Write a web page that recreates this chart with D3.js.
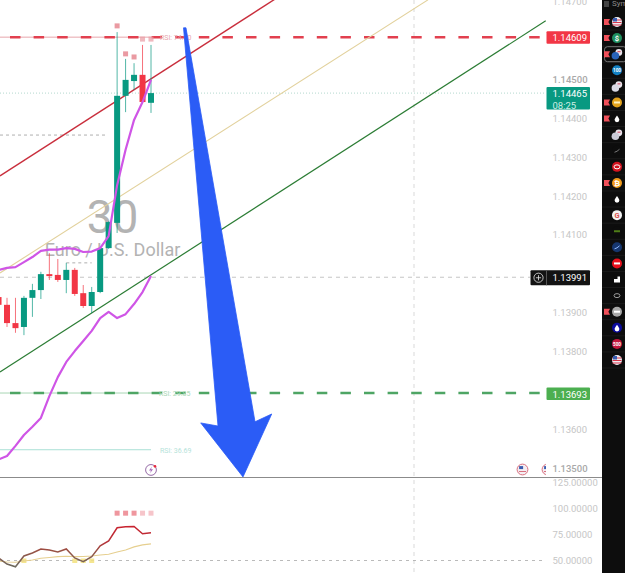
<!DOCTYPE html>
<html>
<head>
<meta charset="utf-8">
<script src="https://cdn.jsdelivr.net/npm/d3@7"></script>
<style>
html,body{margin:0;padding:0;background:#fff;overflow:hidden}
svg{display:block;font-family:Roboto,"Liberation Sans",sans-serif}
</style>
</head>
<body>
<svg id="chart" width="625" height="573"></svg>
<script>
// EUR/USD 30-minute candles
const opens  = [1.13940,1.13920,1.13873,1.13863,1.13938,1.13958,1.13999,1.13997,1.13984,1.14010,1.13950,1.13917,1.13953,1.14066,1.14131,1.14458,1.14496,1.14512,1.14440];
const closes = [1.13920,1.13873,1.13860,1.13938,1.13958,1.13999,1.13994,1.13984,1.14010,1.13948,1.13917,1.13953,1.14066,1.14133,1.14458,1.14499,1.14512,1.14442,1.14465];
const highs  = [1.13945,1.13938,1.13938,1.13943,1.13974,1.14005,1.14053,1.14038,1.14028,1.14015,1.13971,1.13966,1.14068,1.14135,1.14622,1.14553,1.14542,1.14589,1.14589];
const lows   = [1.13917,1.13863,1.13848,1.13842,1.13889,1.13935,1.13984,1.13979,1.13950,1.13943,1.13912,1.13899,1.13950,1.14064,1.14105,1.14416,1.14473,1.14440,1.14414];

// Bollinger-style envelope around price
const bandUpper = [1.14010,1.14015,1.14017,1.14030,1.14043,1.14059,1.14062,1.14062,1.14066,1.14064,1.14056,1.14057,1.14066,1.14097,1.14228,1.14319,1.14396,1.14442,1.14499];
const bandLower = [1.13522,1.13531,1.13557,1.13585,1.13606,1.13629,1.13685,1.13734,1.13773,1.13801,1.13827,1.13853,1.13886,1.13902,1.13886,1.13896,1.13922,1.13953,1.13994];

// RSI pane
const rsiValues = [52.4,46.6,44,54.3,57.2,61,60,58.2,61,52.4,48.8,53.7,64,68.8,81.3,82.2,82.5,75.5,76.4];
const rsiAverage = [49.5,48.6,48.3,49.5,50.5,52.1,52.9,53.7,54,53.7,53.8,54.3,55.3,56,58.2,60.1,63,64.9,65.9];
const overboughtBars = [14,15,16,17,18];
const overboughtStrength = [0.55,0.55,0.55,0.3,0.3];
const oversoldBars = [-0.17,3,9,10,11];

// Price levels and trend channel, as [bar, price]
const channelRed = [[0.17,1.14252],[32.64,1.14707]];
const channelTan = [[0.17,1.14002],[50.7,1.14705]];
const channelGreen = [[0.17,1.13747],[64.6,1.14651]];
const resistance = 1.14609, support = 1.13693, lastPrice = 1.14465, crosshairPrice = 1.13991;
const rsiLowPrice = 1.13547;
const shortLevelA = 1.14357, shortLevelB = 1.14028;

// Overbought markers on the price pane
const markerBars = [14,15,16,17,18];
const markerPrices = [1.14638,1.14566,1.14558,1.14604,1.14604];

// Forecast arrow outline, as [bar, price]
const arrowPath = [[21.84,1.14633],[25.91,1.13608],[23.87,1.13616],[28.86,1.13477],[32.25,1.13639],[30.28,1.13619],[22.13,1.14633]];

const priceTicks = [1.147,1.145,1.144,1.143,1.142,1.141,1.139,1.138,1.136,1.135];
const boldTicks = [1.145,1.135];
const rsiTicks = [125,100,75,50];

// Watchlist rail: icon fill, glyph colour, glyph kind, alert flag
const railFills  = ["#eeeef4","#1f8f5f","#2a63b8","#1281c4","#d9d9e4","#e2a21c","#0d0d0d","#c9c9d6","#0d0d0d","#d3131f","#ef9a1a","#0d0d0d","#f2f2f2","#0d0d0d","#16366e","#e8101c","#0d0d0d","#0d0d0d","#a8a8a8","#0b0b9c","#c4163d","#eeeef4"];
const railInks   = ["#d7354a","#ffffff","#d7354a","#ffffff","#c9405a","#fff3c0","#ffffff","#c9405a","#777777","#ffffff","#ffffff","#ffffff","#d9534f","#4f7d18","#8fb8ff","#ffffff","#ffffff","#999999","#ffffff","#ffffff","#ffffff","#d7354a"];
const railGlyphs = ["us","$","pair","100","pair","bar","drop","pair","tick","ring","₿","drop","G","bar","tick","bar","box","ring","bar","drop","500","us"];
const railFlags  = [1,1,1,0,0,1,1,0,0,0,1,0,0,0,0,0,0,0,1,0,0,0];

const svg = d3.select("#chart");
const W = 625, H = 573;

const x = d3.scaleLinear().domain([0,18]).range([-1.47,151]);
const y = d3.scaleLinear().domain([1.135,1.145]).range([468,79.5]);
const yRsi = d3.scaleLinear().domain([50,125]).range([560.5,482]);
const railY = d3.scaleLinear().domain([0,21]).range([22,360]);

const GREEN = "#089981", RED = "#f23645", AXIS = "#c6c6c6";
const PLOT_RIGHT = 546, PANE_Y = 477.5, RAIL_X = 602;
const fmt = d3.format(".5f");

svg.append("rect").attr("width",W).attr("height",H).attr("fill","#fff");

// Symbol watermark
const wm = svg.append("g").attr("fill","#b3b3b3").attr("text-anchor","middle");
wm.append("text").attr("x",112.5).attr("y",233).attr("font-size",46).text("30");
wm.append("text").attr("x",112.5).attr("y",256).attr("font-size",18).text("Euro / U.S. Dollar");

// Crosshair and reference lines
svg.append("line").attr("x1",414).attr("x2",414).attr("y1",0).attr("y2",H)
  .attr("stroke","#cfcfcf").attr("stroke-width",0.8).attr("stroke-dasharray","4 4");
svg.append("line").attr("x1",0).attr("x2",530).attr("y1",y(crosshairPrice)).attr("y2",y(crosshairPrice))
  .attr("stroke","#b5b5b5").attr("stroke-width",0.8).attr("stroke-dasharray","4 4");
svg.append("line").attr("x1",0).attr("x2",PLOT_RIGHT).attr("y1",y(lastPrice)).attr("y2",y(lastPrice))
  .attr("stroke","#93c9ba").attr("stroke-width",0.7).attr("stroke-dasharray","1 2");
svg.append("line").attr("x1",0).attr("x2",x(12.85)).attr("y1",y(shortLevelA)).attr("y2",y(shortLevelA))
  .attr("stroke","#9a9a9a").attr("stroke-width",0.8).attr("stroke-dasharray","3 3");
svg.append("line").attr("x1",x(8)).attr("x2",x(11)).attr("y1",y(shortLevelB)).attr("y2",y(shortLevelB))
  .attr("stroke","#9a9a9a").attr("stroke-width",0.8).attr("stroke-dasharray","3 3");

// Key levels: pale solid run over the candles, then the heavy dashes
const levels = [
  {price:resistance,pale:"#e7a6ac",dash:"#e2404f",end:x(18.6),text:"RSI: 74.90",textX:160},
  {price:support,pale:"#a8d6b4",dash:"#4ea564",end:x(18.9),text:"RSI: 29.85",textX:159}
];
levels.forEach(d=>{
  svg.append("line").attr("x1",0).attr("x2",d.end).attr("y1",y(d.price)).attr("y2",y(d.price))
    .attr("stroke",d.pale).attr("stroke-width",1);
  svg.append("line").attr("x1",10).attr("x2",PLOT_RIGHT).attr("y1",y(d.price)).attr("y2",y(d.price))
    .attr("stroke",d.dash).attr("stroke-width",2.5).attr("stroke-dasharray","10.5 13.1");
  svg.append("text").attr("x",d.textX).attr("y",y(d.price)+3).attr("font-size",7)
    .attr("fill",d.pale).text(d.text);
});
svg.append("line").attr("x1",0).attr("x2",x(18)).attr("y1",y(rsiLowPrice)).attr("y2",y(rsiLowPrice))
  .attr("stroke","#a9e0d6").attr("stroke-width",1);
svg.append("text").attr("x",160).attr("y",y(rsiLowPrice)+3).attr("font-size",7)
  .attr("fill","#b5e3da").text("RSI: 36.69");

// Trend channel
const priceLine = d3.line().x(d=>x(d[0])).y(d=>y(d[1]));
[[channelTan,"#e2d19c",1.1],[channelRed,"#c92f3d",1.4],[channelGreen,"#2c7d35",1.2]].forEach(([pts,c,w])=>{
  svg.append("path").attr("d",priceLine(pts)).attr("fill","none").attr("stroke",c).attr("stroke-width",w);
});

// Candles
const bars = d3.range(opens.length);
const candle = svg.append("g").selectAll("g").data(bars).join("g");
candle.append("line")
  .attr("x1",i=>x(i)).attr("x2",i=>x(i))
  .attr("y1",i=>y(highs[i])).attr("y2",i=>y(lows[i]))
  .attr("stroke",i=>closes[i]>=opens[i]?GREEN:RED).attr("stroke-width",1).attr("stroke-opacity",0.7);
candle.append("rect")
  .attr("x",i=>x(i)-3).attr("width",6)
  .attr("y",i=>y(Math.max(opens[i],closes[i])))
  .attr("height",i=>Math.max(1.5,Math.abs(y(opens[i])-y(closes[i]))))
  .attr("fill",i=>closes[i]>=opens[i]?GREEN:RED);

// Envelope
const bandLine = d3.line().x((d,i)=>x(i)).y(d=>y(d));
[bandUpper,bandLower].forEach(s=>{
  svg.append("path").attr("d",bandLine(s)).attr("fill","none")
    .attr("stroke","#cf55e6").attr("stroke-width",2.2).attr("stroke-linejoin","round");
});

svg.append("g").selectAll("rect").data(markerBars).join("rect")
  .attr("x",d=>x(d)-2.5).attr("width",5).attr("height",5)
  .attr("y",(d,i)=>y(markerPrices[i])-2.5)
  .attr("fill","#ea9aa2").attr("opacity",(d,i)=>i<3?1:0.7);

// Forecast arrow
svg.append("path").attr("d",priceLine(arrowPath)+"Z")
  .attr("fill","#2b5cf6").attr("stroke","#2b5cf6").attr("stroke-width",0.8).attr("stroke-linejoin","round");

// News marker
const news = svg.append("g").attr("transform",`translate(${x(18)},${y(1.13495)})`);
news.append("circle").attr("r",5.4).attr("fill","#fff").attr("stroke","#8a5a9c").attr("stroke-width",0.9);
news.append("path").attr("d","M1-3.4L-2 .6H0L-1 3.4L2-.6H0Z").attr("fill","#a566b8");
news.append("circle").attr("cx",4).attr("cy",-3.6).attr("r",1.3).attr("fill","#e8273a");

// Economic event flags near the scale
[522.5,547.5].forEach(cx=>{
  const g = svg.append("g").attr("transform",`translate(${cx},469.5)`);
  g.append("circle").attr("r",5.4).attr("fill","#f4eef2").attr("stroke","#d9707f").attr("stroke-width",1);
  g.append("rect").attr("x",-3.4).attr("y",-3.4).attr("width",4).attr("height",3).attr("fill","#3a5db0");
  g.append("rect").attr("x",-3.6).attr("y",1.5).attr("width",7.2).attr("height",1).attr("fill","#d9707f");
});
svg.append("rect").attr("x",546).attr("y",460).attr("width",56).attr("height",17).attr("fill","#fff");

// Pane separator
svg.append("line").attr("x1",0).attr("x2",RAIL_X).attr("y1",PANE_Y).attr("y2",PANE_Y)
  .attr("stroke","#8b8b8b").attr("stroke-width",1);

// RSI pane
svg.append("line").attr("x1",0).attr("x2",PLOT_RIGHT).attr("y1",yRsi(50)).attr("y2",yRsi(50))
  .attr("stroke","#a8a8a8").attr("stroke-width",0.8).attr("stroke-dasharray","3 4");
const rsiMarks = svg.append("g");
rsiMarks.selectAll("rect.os").data(oversoldBars).join("rect").attr("class","os")
  .attr("x",d=>x(d)-2.5).attr("width",5).attr("height",4.5).attr("y",yRsi(50)-2)
  .attr("fill","#f3e27e").attr("opacity",0.85);
rsiMarks.selectAll("rect.ob").data(overboughtBars).join("rect").attr("class","ob")
  .attr("x",d=>x(d)-2.5).attr("width",5).attr("height",5).attr("y",yRsi(100)+2.5)
  .attr("fill","#e2404f").attr("opacity",(d,i)=>overboughtStrength[i]);

const defs = svg.append("defs");
const grad = defs.append("linearGradient").attr("id","rsiStroke")
  .attr("gradientUnits","userSpaceOnUse").attr("x1",0).attr("x2",0)
  .attr("y1",yRsi(82)).attr("y2",yRsi(45));
[[0,"#c8232f"],[0.4,"#b5333a"],[0.6,"#9a5043"],[1,"#6f6a5e"]].forEach(([o,c])=>{
  grad.append("stop").attr("offset",o).attr("stop-color",c);
});
const rsiLine = d3.line().x((d,i)=>x(i)).y(d=>yRsi(d));
svg.append("path").attr("d",rsiLine(rsiAverage)).attr("fill","none").attr("stroke","#e6cf8f").attr("stroke-width",1.1);
svg.append("path").attr("d",rsiLine(rsiValues)).attr("fill","none").attr("stroke","url(#rsiStroke)").attr("stroke-width",1.5);

// Axes
const priceAxis = svg.append("g").attr("transform","translate(549.5,0)")
  .call(d3.axisRight(y).tickValues(priceTicks).tickFormat(fmt).tickSize(0).tickPadding(3));
const rsiAxis = svg.append("g").attr("transform","translate(549.5,0)")
  .call(d3.axisRight(yRsi).tickValues(rsiTicks).tickFormat(fmt).tickSize(0).tickPadding(3));
[priceAxis,rsiAxis].forEach(a=>{
  a.select(".domain").remove();
  a.selectAll("text").attr("font-family","Roboto,sans-serif").attr("font-size",9.5).attr("fill",AXIS);
});
priceAxis.selectAll(".tick text").filter(d=>boldTicks.includes(d))
  .attr("fill","#a9a9a9").attr("font-weight",500);

// Price tags on the scale
function tag(top,h,left,fill,lines){
  svg.append("rect").attr("x",left).attr("y",top).attr("width",590-left).attr("height",h).attr("rx",1).attr("fill",fill);
  lines.forEach((t,i)=>{
    svg.append("text").attr("x",552.5).attr("y",top+10+i*11.5).attr("font-size",9.5)
      .attr("fill",i?"#cdeee5":"#fff").text(t);
  });
}
tag(y(resistance)-6,12.5,546.5,RED,[fmt(resistance)]);
tag(y(lastPrice)-6,22.5,546.5,GREEN,[fmt(lastPrice),"08:25"]);
tag(y(crosshairPrice)-7,15,530.5,"#131313",[]);
svg.append("text").attr("x",552.5).attr("y",y(crosshairPrice)+3.5).attr("font-size",9.5)
  .attr("fill","#fff").text(fmt(crosshairPrice));
svg.append("line").attr("x1",546.5).attr("x2",546.5).attr("y1",y(crosshairPrice)-7).attr("y2",y(crosshairPrice)+8).attr("stroke","#555");
const plus = svg.append("g").attr("transform",`translate(538.5,${y(crosshairPrice)+0.5})`)
  .attr("stroke","#e8e8e8").attr("fill","none").attr("stroke-width",0.8);
plus.append("circle").attr("r",4.6);
plus.append("path").attr("d","M-2.6 0H2.6M0-2.6V2.6");
tag(y(support)-5.5,12.5,546.5,"#4caf50",[fmt(support)]);

// Watchlist rail
const rail = svg.append("g");
const rows = d3.range(railFills.length);
rail.append("rect").attr("x",RAIL_X).attr("y",0).attr("width",W-RAIL_X).attr("height",H).attr("fill","#0d0d0d");
rail.append("rect").attr("x",604).attr("y",1).attr("width",5).attr("height",6).attr("fill","#444");
rail.append("text").attr("x",612).attr("y",6).attr("font-size",8).attr("fill","#8a8a8a").text("Sym");
rail.selectAll("line").data(rows).join("line")
  .attr("x1",RAIL_X).attr("x2",W).attr("y1",i=>railY(i)+8).attr("y2",i=>railY(i)+8)
  .attr("stroke","#242424").attr("stroke-width",0.6);
rail.append("rect").attr("x",604.5).attr("y",railY(2)-7.5).attr("width",22).attr("height",15).attr("rx",3)
  .attr("fill","none").attr("stroke","#777");
rail.selectAll("path.flag").data(rows.filter(i=>railFlags[i])).join("path").attr("class","flag")
  .attr("d",i=>{const t=railY(i);return `M604 ${t-3}H610L608.4 ${t}L610 ${t+3}H604Z`;})
  .attr("fill","#f0505a");
const icon = rail.selectAll("g.icon").data(rows).join("g").attr("class","icon")
  .attr("transform",i=>`translate(617,${railY(i)})`);
icon.append("circle").attr("r",i=>railGlyphs[i]==="pair"?0:5).attr("fill",i=>railFills[i]);
icon.each(function(i){
  const g = d3.select(this), kind = railGlyphs[i], ink = railInks[i], fill = railFills[i];
  if(kind==="us"){
    [-2.5,0,2.5].forEach(o=>g.append("rect").attr("x",-4.5).attr("y",o).attr("width",9).attr("height",1).attr("fill",ink));
    g.append("rect").attr("x",-4).attr("y",-4).attr("width",4).attr("height",3.5).attr("fill","#3a5db0");
  } else if(kind==="pair"){
    g.append("circle").attr("cx",1.8).attr("cy",-1.8).attr("r",3.4).attr("fill","#e9e3ea");
    g.append("circle").attr("cx",-1.6).attr("cy",1.6).attr("r",3.8).attr("fill",fill);
    g.append("rect").attr("x",0.5).attr("y",-3).attr("width",3).attr("height",1).attr("fill",ink);
  } else if(kind==="bar"){
    g.append("rect").attr("x",-3).attr("y",-1).attr("width",6).attr("height",2).attr("fill",ink);
  } else if(kind==="ring"){
    g.append("ellipse").attr("rx",3).attr("ry",2).attr("fill","none").attr("stroke",ink).attr("stroke-width",1);
  } else if(kind==="drop"){
    g.append("path").attr("d","M0-3C2 0 2.4 .6 2.4 1.2A2.4 2.4 0 0 1-2.4 1.2C-2.4 .6-2 0 0-3Z").attr("fill",ink);
  } else if(kind==="tick"){
    g.append("path").attr("d","M-2.5 1.5L0 .5L2.5-1.5").attr("fill","none").attr("stroke",ink).attr("stroke-width",1);
  } else if(kind==="box"){
    g.append("path").attr("d","M-3 3V-.5H.5V-3H3V3Z").attr("fill",ink);
  } else {
    g.append("text").attr("text-anchor","middle").attr("y",kind.length>1?1.6:2.6)
      .attr("font-size",kind.length>1?4.6:7.5).attr("font-weight",700).attr("fill",ink).text(kind);
  }
});
</script>
</body>
</html>
